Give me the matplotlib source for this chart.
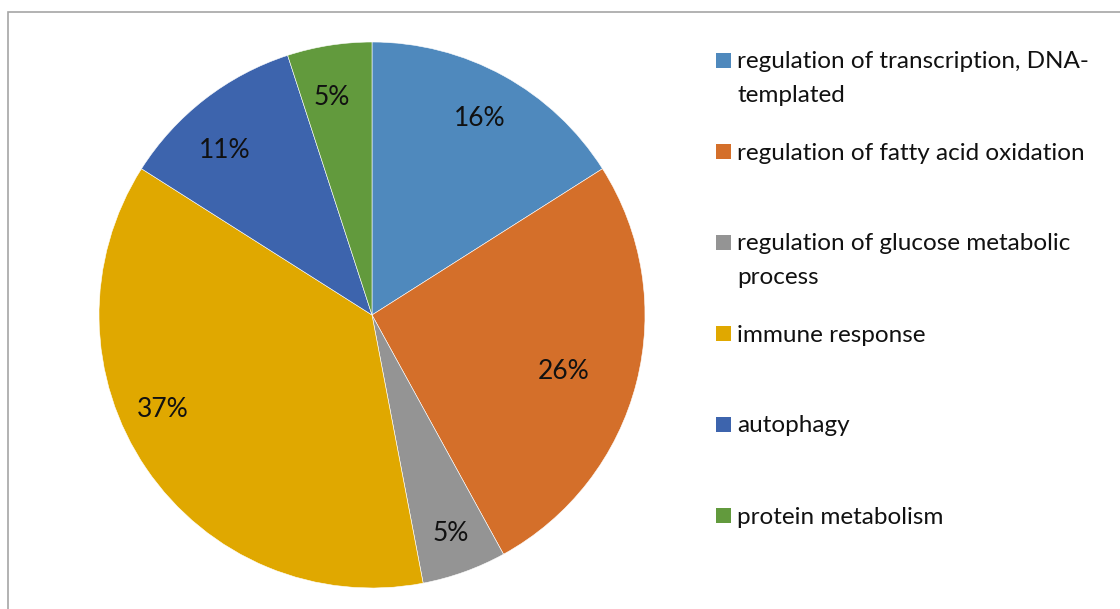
import matplotlib.pyplot as plt
import numpy as np
from matplotlib.patches import Rectangle

# data
labels = ['regulation of transcription, DNA-\ntemplated',
          'regulation of fatty acid oxidation',
          'regulation of glucose metabolic\nprocess',
          'immune response',
          'autophagy',
          'protein metabolism']
shares = [16, 26, 5, 37, 11, 5]
colors = ['#4F89BD', '#D46F2A', '#949494', '#E0A800', '#3D64AD', '#629A3D']

# label placement (Excel "best fit" look): radius and angle nudge per slice
label_r = [0.82, 0.73, 0.85, 0.84, 0.81, 0.81]
label_nudge = [0, -2, 0, -10, 4, 1.5]

plt.rcParams['font.family'] = ['Lato', 'DejaVu Sans']

W, H = 1120, 609
fig = plt.figure(figsize=(W / 100, H / 100), dpi=100)

# outer chart frame (right/bottom run off the picture)
fig.patches.append(Rectangle((8 / W, -0.05), 1.2, (H - 12) / H + 0.05,
                             transform=fig.transFigure, fill=False,
                             edgecolor='#A6A6A6', linewidth=1.2))

# pie axes: center (372, 315), radius 273 px
cx, cy, r = 372, 315, 273
ax = fig.add_axes([(cx - r) / W, (H - cy - r) / H, 2 * r / W, 2 * r / H])
wedges, texts = ax.pie(shares, colors=colors, startangle=90, counterclock=False,
                       wedgeprops=dict(edgecolor='white', linewidth=0.4))
ax.set_aspect('equal')
ax.set_xlim(-1, 1)
ax.set_ylim(-1, 1)

total = sum(shares)
for w, v, rr, nd in zip(wedges, shares, label_r, label_nudge):
    mid = np.deg2rad((w.theta1 + w.theta2) / 2 + nd)
    ax.text(rr * np.cos(mid), rr * np.sin(mid), f'{v / total * 100:.0f}%',
            ha='center', va='center', fontsize=19, color='#111111')

# legend drawn by hand so the marker sits on the first line
y0, step, line_h = 60, 91, 33
for i, (lab, col) in enumerate(zip(labels, colors)):
    y = y0 + i * step
    fig.patches.append(Rectangle((716 / W, (H - y - 7.5) / H), 15 / W, 15 / H,
                                 transform=fig.transFigure, facecolor=col, edgecolor='none'))
    for k, line in enumerate(lab.split('\n')):
        fig.text(737 / W, (H - y - k * line_h) / H, line, fontsize=17.5,
                 color='#111111', va='center_baseline')

fig.savefig('out.png', dpi=100)
